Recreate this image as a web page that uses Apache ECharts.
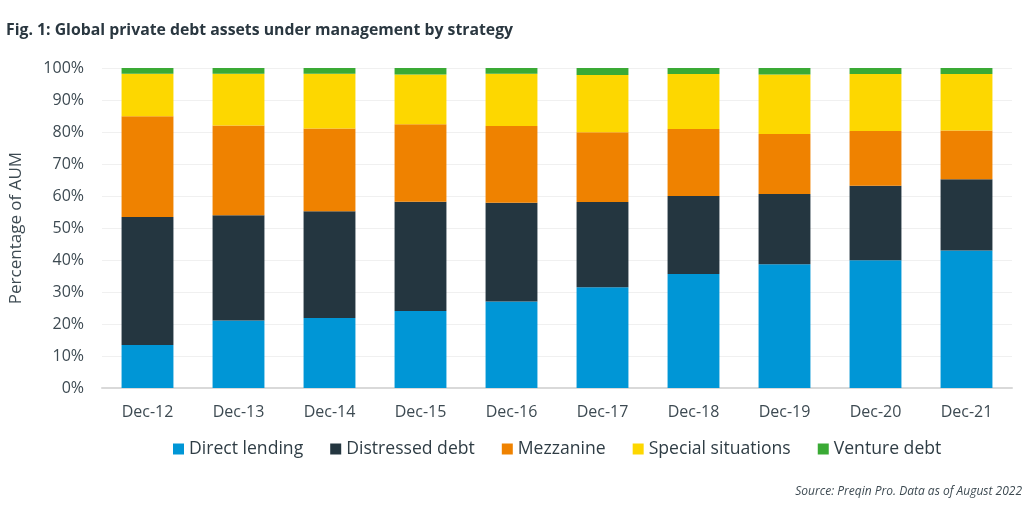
<!DOCTYPE html>
<html><head><meta charset="utf-8">
<script src="https://cdn.jsdelivr.net/npm/echarts@6/dist/echarts.min.js"></script>
<style>html,body{margin:0;padding:0;background:#fff}#c{width:1024px;height:512px}</style>
</head><body><div id="c"></div>
<script>
const categories = ['Dec-12','Dec-13','Dec-14','Dec-15','Dec-16','Dec-17','Dec-18','Dec-19','Dec-20','Dec-21'];
const directLending = [13.4, 21.1, 21.9, 24.1, 27.0, 31.5, 35.6, 38.7, 39.9, 43.0];
const distressedDebt = [40.0, 32.9, 33.3, 34.1, 30.9, 26.6, 24.4, 21.9, 23.3, 22.2];
const mezzanine = [31.5, 28.0, 25.9, 24.2, 24.0, 21.8, 20.9, 18.8, 17.1, 15.3];
const specialSituations = [13.3, 16.2, 17.1, 15.6, 16.3, 17.9, 17.2, 18.6, 17.8, 17.6];
const ventureDebt = [1.8, 1.8, 1.8, 2.0, 1.8, 2.2, 1.9, 2.0, 1.9, 1.9];
const yTicks = [0,10,20,30,40,50,60,70,80,90,100];

const font = 'Open Sans';
const chart = echarts.init(document.getElementById('c'), null, {renderer:'canvas'});
const mk = (name, data, color) => ({
  name, type:'bar', stack:'a', data, barWidth:'57%',
  itemStyle:{color}, emphasis:{disabled:true}
});
chart.setOption({
  animation:false,
  textStyle:{fontFamily:font},
  title:[{
    text:'Fig. 1: Global private debt assets under management by strategy',
    left:1, top:17,
    textStyle:{fontFamily:font, fontWeight:'bold', fontSize:15.8, color:'#2a3740'}
  },{
    text:'Source: Preqin Pro. Data as of August 2022',
    right:-3, top:481,
    textStyle:{fontFamily:font, fontStyle:'italic', fontWeight:'normal', fontSize:12, color:'#3d4a52'}
  }],
  legend:{
    top:435, left:168, itemWidth:11, itemHeight:11, itemGap:27,
    icon:'rect',
    textStyle:{fontFamily:font, fontSize:17.6, color:'#2f3d45'},
    data:['Direct lending','Distressed debt','Mezzanine','Special situations','Venture debt']
  },
  grid:{left:100, right:12, top:68, bottom:124, containLabel:false},
  xAxis:{
    type:'category', data:categories,
    axisLine:{lineStyle:{color:'#d9d9d9', width:2}},
    axisTick:{show:false},
    axisLabel:{fontFamily:font, fontSize:16, color:'#3d4a52', margin:16}
  },
  yAxis:{
    type:'value', min:0, max:100, interval:10,
    name:'Percentage of AUM', nameLocation:'middle', nameGap:77,
    nameTextStyle:{fontFamily:font, fontSize:17, color:'#3d4a52'},
    axisLabel:{fontFamily:font, fontSize:16, color:'#3d4a52', margin:18,
      formatter: v => yTicks.includes(v) ? v + '%' : ''},
    splitLine:{lineStyle:{color:'#f0f0f0', width:1}},
    axisLine:{show:false}, axisTick:{show:false}
  },
  series:[
    mk('Direct lending', directLending, '#0096d6'),
    mk('Distressed debt', distressedDebt, '#243640'),
    mk('Mezzanine', mezzanine, '#ef8200'),
    mk('Special situations', specialSituations, '#fdd700'),
    mk('Venture debt', ventureDebt, '#3aaa35')
  ]
});
</script></body></html>
